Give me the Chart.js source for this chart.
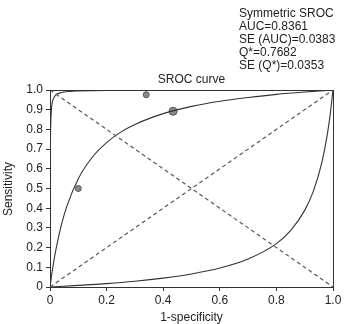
<!DOCTYPE html>
<html>
<head>
<meta charset="utf-8">
<script src="https://cdn.jsdelivr.net/npm/chart.js@4/dist/chart.umd.min.js"></script>
<style>
html, body { margin: 0; padding: 0; background: #fff; }
#wrap { width: 345px; height: 324px; position: relative; }
</style>
</head>
<body>
<div id="wrap"><canvas id="sroc" width="345" height="324"></canvas></div>
<script>
// values
var xTickLabels = ['0', '0.2', '0.4', '0.6', '0.8', '1.0'];
var yTickLabels = ['0', '0.1', '0.2', '0.3', '0.4', '0.5', '0.6', '0.7', '0.8', '0.9', '1.0'];

var srocX = [0, 0.005, 0.01, 0.02, 0.04, 0.06, 0.1, 0.15, 0.2, 0.25, 0.3, 0.4, 0.5, 0.6, 0.7, 0.8, 0.9, 1.0];
var srocY = [0, 0.052, 0.10, 0.183, 0.314, 0.412, 0.55, 0.66, 0.733, 0.786, 0.825, 0.88, 0.917, 0.943, 0.962, 0.978, 0.99, 1.0];

var upperX = [0, 0.001, 0.002, 0.004, 0.007, 0.01, 0.02, 0.04, 0.07, 0.1, 0.2, 0.4, 0.7, 1.0];
var upperY = [0, 0.645, 0.785, 0.88, 0.928, 0.948, 0.974, 0.987, 0.993, 0.995, 0.998, 0.999, 1.0, 1.0];

var lowerX = [0, 0.1, 0.2, 0.3, 0.4, 0.5, 0.6, 0.7, 0.8, 0.85, 0.9, 0.93, 0.96, 0.98, 0.99, 1.0];
var lowerY = [0, 0.008, 0.017, 0.029, 0.045, 0.066, 0.096, 0.142, 0.22, 0.286, 0.389, 0.484, 0.629, 0.776, 0.875, 1.0];

var studyX = [0.10, 0.34, 0.435];
var studyY = [0.50, 0.976, 0.892];

var statLines = ['Symmetric SROC', 'AUC=0.8361', 'SE (AUC)=0.0383', 'Q*=0.7682', 'SE (Q*)=0.0353'];

function pairs(xs, ys) {
    return xs.map(function (x, i) { return { x: x, y: ys[i] }; });
}

var FONT = "'Liberation Sans', Arial, sans-serif";
var INK = '#333';

var textPlugin = {
    id: 'texts',
    afterDraw: function (chart) {
        var ctx = chart.ctx, a = chart.chartArea;
        ctx.save();
        // box round the plot
        ctx.strokeStyle = INK;
        ctx.lineWidth = 1;
        ctx.strokeRect(a.left + 0.5, a.top + 0.5, a.right - a.left, a.bottom - a.top);

        ctx.fillStyle = '#222';
        ctx.font = '12px ' + FONT;
        ctx.textBaseline = 'middle';
        ctx.textAlign = 'left';
        statLines.forEach(function (t, i) {
            ctx.fillText(t, 239, 14 + i * 13);
        });
        ctx.textAlign = 'center';
        ctx.fillText('SROC curve', (a.left + a.right) / 2, 80);
        ctx.fillText('1-specificity', (a.left + a.right) / 2, 318);
        ctx.translate(9, 189);
        ctx.rotate(-Math.PI / 2);
        ctx.fillText('Sensitivity', 0, 0);
        ctx.restore();
    }
};

var lineDs = function (data, dash, color) {
    return {
        type: 'scatter',
        data: data,
        showLine: true,
        borderColor: color,
        borderWidth: 1.1,
        borderDash: dash,
        pointRadius: 0,
        cubicInterpolationMode: 'monotone',
        fill: false
    };
};

new Chart(document.getElementById('sroc').getContext('2d'), {
    type: 'scatter',
    data: {
        datasets: [
            lineDs([{ x: 0, y: 0 }, { x: 1, y: 1 }], [4, 3], '#555'),
            lineDs([{ x: 0, y: 1 }, { x: 1, y: 0 }], [4, 3], '#555'),
            lineDs(pairs(upperX, upperY), [], INK),
            lineDs(pairs(srocX, srocY), [], INK),
            lineDs(pairs(lowerX, lowerY), [], INK),
            {
                type: 'scatter',
                data: pairs(studyX, studyY),
                pointRadius: [3, 3, 4],
                pointBackgroundColor: '#8a8a8a',
                pointBorderColor: '#555',
                pointBorderWidth: 1
            }
        ]
    },
    options: {
        responsive: false,
        animation: false,
        layout: { padding: { left: 0, top: 90, right: 12, bottom: 0 } },
        plugins: {
            legend: { display: false },
            tooltip: { enabled: false },
            title: { display: false }
        },
        scales: {
            x: {
                type: 'linear',
                min: 0, max: 1,
                afterFit: function (s) { s.height = 37; },
                grid: { drawOnChartArea: false, drawTicks: true, tickLength: 4, color: INK },
                border: { color: INK },
                ticks: {
                    stepSize: 0.2,
                    padding: 2,
                    color: '#222',
                    font: { family: FONT, size: 12 },
                    maxRotation: 0,
                    callback: function (v, i) { return xTickLabels[i]; }
                }
            },
            y: {
                type: 'linear',
                min: 0, max: 1,
                afterFit: function (s) { s.width = 50; },
                grid: { drawOnChartArea: false, drawTicks: true, tickLength: 4, color: INK },
                border: { color: INK },
                ticks: {
                    stepSize: 0.1,
                    padding: 3,
                    color: '#222',
                    font: { family: FONT, size: 12 },
                    callback: function (v, i) { return yTickLabels[i]; }
                }
            }
        }
    },
    plugins: [textPlugin]
});
</script>
</body>
</html>
